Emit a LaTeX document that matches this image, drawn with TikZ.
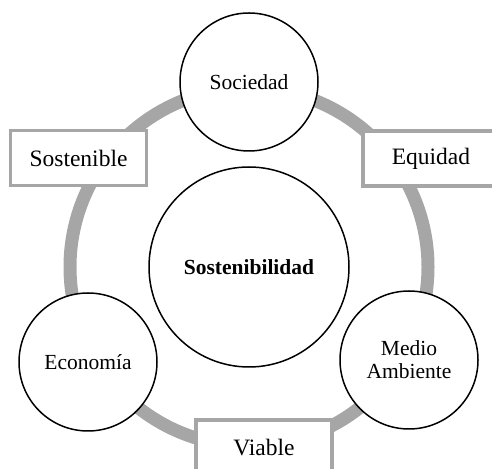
\documentclass[tikz,border=0pt]{standalone}
\usepackage{fontspec}
\setmainfont{Liberation Serif}
\usepackage{xcolor}
\usepackage{tikz}

\definecolor{ringgray}{HTML}{A6A6A6}

\begin{document}
\begin{tikzpicture}[x=0.5pt, y=-0.5pt,
    every node/.append style={font=\fontsize{10.75}{11.6}\selectfont},
    pillar/.style={draw, circle, fill=white, line width=0.75pt, minimum size=69pt, inner sep=0pt, align=center},
    tag/.style={draw=ringgray, fill=white, line width=1.75pt, minimum width=68pt, minimum height=27.5pt, inner sep=0pt,
        font=\fontsize{11.75}{13}\selectfont},
    ring/.style={draw=ringgray, line width=6.5pt},
]

\clip (0, 0) rectangle (492, 469);

% grey ring behind everything
\coordinate (mid) at (249, 267);
\draw[ring] (mid) circle (89.5pt);

\node[pillar, minimum size=100pt, font=\fontsize{10.75}{12}\selectfont\bfseries] (core) at (mid) {Sostenibilidad};

\node[pillar] (soc) at (249, 82) {Sociedad};
\node[pillar] (med) at (409, 360) {Medio\\Ambiente};
\node[pillar] (eco) at (88, 362) {Econom\'ia};

\node[tag] (sost) at (78.5, 158) {Sostenible};
\node[tag] (equ) at (431, 158.5) {Equidad};
\node[tag] (via) at (264, 447.5) {Viable};

\end{tikzpicture}
\end{document}
